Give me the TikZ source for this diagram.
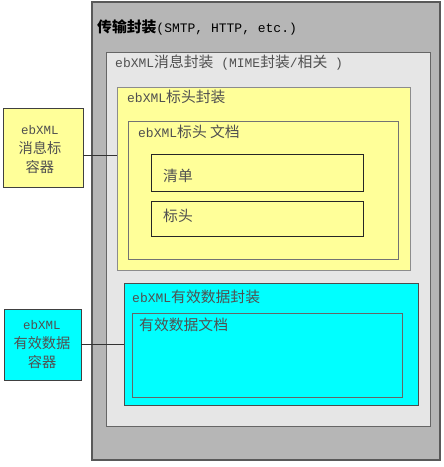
\documentclass[tikz,border=0pt]{standalone}
\usepackage{fontspec}
\setmainfont{Liberation Mono}
\newfontfamily\cjk[Scale=1.14]{Noto Sans CJK SC}
\definecolor{outerg}{HTML}{B6B6B6}
\definecolor{innerg}{HTML}{E6E6E6}
\definecolor{ylw}{HTML}{FFFF99}
\definecolor{cyn}{HTML}{00FFFF}
\definecolor{txt}{HTML}{505050}
\tikzset{
  box/.style={draw, anchor=north west, inner sep=0pt, outer sep=0pt},
  lbl/.style={anchor=west, inner sep=0pt, text=txt, font=\fontsize{13}{15}\selectfont},
  ctr/.style={align=center, inner sep=0pt, text=txt, font=\fontsize{12.5}{19}\selectfont},
  conn/.style={draw=black!80, line width=0.8pt}
}
\begin{document}
\begin{tikzpicture}[x=1pt,y=-1pt]
\fill[white] (0,0) rectangle (444,467);
\useasboundingbox (0,0) rectangle (444,467);
% transport envelope
\node[box, fill=outerg, draw=black!65, line width=1.2pt, minimum width=348pt, minimum height=458pt] (trans) at (92,2) {};
\node[lbl, text=black] (transt) at (97,27) {{\cjk\bfseries 传输封装}(SMTP, HTTP, etc.)};
% message envelope
\node[box, fill=innerg, draw=black!60, line width=0.8pt, minimum width=324pt, minimum height=374pt] (msg) at (106,52) {};
\node[lbl] (msgt) at (115,63) {ebXML{\cjk 消息封装} ({\cjk}MIME{\cjk 封装}/{\cjk 相关} )};
% header envelope
\node[box, fill=ylw, draw=black!45, line width=0.8pt, minimum width=293pt, minimum height=183pt] (hdrenv) at (117,87) {};
\node[lbl] (hdrenvt) at (127,97) {ebXML{\cjk 标头封装}};
\node[box, fill=ylw, draw=black!55, line width=0.8pt, minimum width=270pt, minimum height=138pt] (hdrdoc) at (128,121) {};
\node[lbl] (hdrdoct) at (138,132) {ebXML{\cjk 标头 文档}};
\node[box, fill=ylw, draw=black!85, line width=1pt, minimum width=212pt, minimum height=37pt] (manif) at (151,154) {};
\node[lbl] (maniflbl) at (163,176) {\cjk 清单};
\node[box, fill=ylw, draw=black!85, line width=1pt, minimum width=212pt, minimum height=35pt] (hdr) at (151,201) {};
\node[lbl] (hdrlbl) at (163,216) {\cjk 标头};
% payload envelope
\node[box, fill=cyn, draw=black!70, line width=0.9pt, minimum width=294pt, minimum height=122pt] (penv) at (124,283) {};
\node[lbl] (penvt) at (132,297) {ebXML{\cjk 有效数据封装}};
\node[box, fill=cyn, draw=black!60, line width=0.8pt, minimum width=270pt, minimum height=84pt] (pdoc) at (132,313) {};
\node[lbl] (pdoct) at (139,325) {\cjk 有效数据文档};
% left containers
\node[box, fill=ylw, draw=black!75, line width=1pt, minimum width=80pt, minimum height=79pt] (lhdr) at (3,108) {};
\node[ctr] (lhdrt) at (40,150) {ebXML\\{\cjk 消息标}\\{\cjk 容器}};
\node[box, fill=cyn, draw=black!75, line width=1pt, minimum width=77pt, minimum height=71pt] (lpay) at (4,309) {};
\node[ctr] (lpayt) at (42,345) {ebXML\\{\cjk 有效数据}\\{\cjk 容器}};
% connectors
\coordinate (c1) at (0,155);
\draw[conn] (lhdr.east |- c1) -- (hdrenv.west |- c1);
\draw[conn] (lpay.east) -- (penv.west |- lpay.east);
\end{tikzpicture}
\end{document}
